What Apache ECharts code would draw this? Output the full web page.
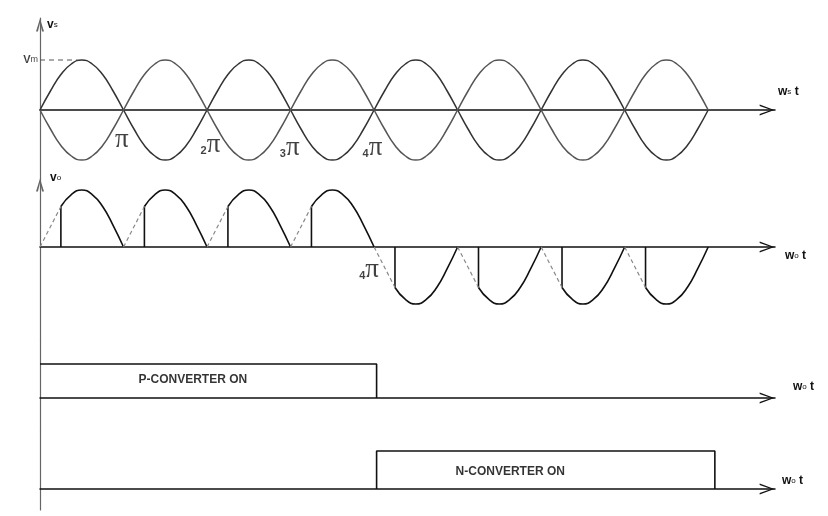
<!DOCTYPE html>
<html>
<head>
<meta charset="utf-8">
<script src="https://cdn.jsdelivr.net/npm/echarts@6/dist/echarts.min.js"></script>
<style>
  html, body { margin: 0; background: #fff; }
  #main { width: 828px; height: 516px; }
</style>
</head>
<body>
<div id="main"></div>
<script>
// all x values are in multiples of pi; one half cycle of the supply read at eighths
const halfX = [0, 0.125, 0.25, 0.375, 0.5, 0.625, 0.75, 0.875];
const halfY = [0, 0.38, 0.71, 0.92, 1, 0.92, 0.71, 0.38];
const vsHalfCycles = [0, 1, 2, 3, 4, 5, 6, 7];
const vsSign = [1, -1, 1, -1, 1, -1, 1, -1];

const piTickX = [0.98, 2.04, 2.99, 3.98];
const piTickY = [-0.6, -0.7, -0.76, -0.76];
const piTickText = ['', '2', '3', '4'];

// output voltage: one half cycle per hump, fired at voFire
const voStart = [0, 1, 2, 3, 4, 5, 6, 7];
const voFire = [0.25, 1.25, 2.25, 3.25, 4.25, 5.25, 6.25, 7.25];
const voSign = [1, 1, 1, 1, -1, -1, -1, -1];
const humpX = [0.25, 0.375, 0.5, 0.625, 0.75, 0.875, 1];
const humpY = [0.71, 0.92, 1, 0.92, 0.71, 0.38, 0];

// converter on-intervals
const pOnX = [0, 4.03, 4.03];
const pOnY = [1, 1, 0];
const nOnX = [4.03, 4.03, 8.08, 8.08];
const nOnY = [0, 1, 1, 0];

const zip = (xs, ys) => xs.map((x, i) => [x, ys[i]]);

const vsUpper = [], vsLower = [];
vsHalfCycles.forEach((k, i) => {
  halfX.forEach((hx, j) => {
    vsUpper.push([k + hx, vsSign[i] * halfY[j]]);
    vsLower.push([k + hx, -vsSign[i] * halfY[j]]);
  });
});
vsUpper.push([8, 0]);
vsLower.push([8, 0]);

const voSolid = [], voDashed = [], voVertical = [];
voStart.forEach((s, i) => {
  const sg = voSign[i];
  humpX.forEach((hx, j) => voSolid.push([s + hx, sg * humpY[j]]));
  voSolid.push([s + 1, '-']);
  voDashed.push([s, 0], [voFire[i], sg * humpY[0]], [voFire[i], '-']);
  voVertical.push([voFire[i], 0], [voFire[i], sg * humpY[0]], [voFire[i], '-']);
});

const sans = 'Liberation Sans';
const chevron = 'path://M0,16L6,0L12,16L10.4,16L6,3.6L1.6,16Z';
const chevronY = 'path://M0,16L5,0L10,16L7.6,16L5,5.5L2.4,16Z';
const richW = {
  a: { fontFamily: sans, fontWeight: 'bold', fontSize: 12, color: '#111' },
  b: { fontFamily: sans, fontSize: 8, color: '#111' }
};

function xAx(idx, gap, padding) {
  return {
    type: 'value', gridIndex: idx, min: 0, max: 8.8,
    axisLine: { show: true, symbol: ['none', chevron], symbolSize: [11, 16],
      symbolOffset: [0, -8], lineStyle: { color: '#111', width: 1.5 } },
    axisTick: { show: false }, axisLabel: { show: false }, splitLine: { show: false },
    name: idx === 0 ? '{a|w}{b|s}{a| t}' : '{a|w}{b|o}{a| t}',
    nameLocation: 'end', nameGap: gap,
    nameTextStyle: { padding: padding, rich: richW }
  };
}
function yAx(idx, min, max, arrow, name) {
  return {
    type: 'value', gridIndex: idx, min: min, max: max,
    axisLine: { show: true, onZero: false,
      symbol: arrow ? ['none', chevronY] : 'none', symbolSize: [8, 15],
      symbolOffset: [0, -7], lineStyle: { color: '#666', width: 1.2 } },
    axisTick: { show: false }, axisLabel: { show: false }, splitLine: { show: false },
    name: name, nameLocation: 'end', nameGap: idx === 0 ? -7 : 0,
    nameTextStyle: { align: 'left', verticalAlign: 'middle',
      padding: [0, 0, 0, idx === 0 ? 7 : 10],
      rich: { a: { fontFamily: sans, fontWeight: 'bold', fontSize: 12, color: '#111' },
              b: { fontFamily: sans, fontSize: 8, color: '#111' } } }
  };
}

const solidLine = { color: '#111', width: 1.6 };
const dashLine = { color: '#888', width: 1.2, type: [4, 3] };
const piRich = {
  c: { fontFamily: sans, fontWeight: 'bold', fontSize: 11, color: '#111',
       verticalAlign: 'bottom', padding: [0, 0, 2, 0], textBorderWidth: 0 },
  p: { fontFamily: 'Liberation Serif', fontSize: 27, color: '#111', textBorderWidth: 0 }
};
const boxText = { show: true, position: 'inside', fontFamily: sans, fontWeight: 'bold',
  fontSize: 12, color: '#000', textBorderWidth: 0 };

const option = {
  backgroundColor: '#fff',
  animation: false,
  grid: [
    { left: 40, right: 53, top: 18, height: 160 },
    { left: 40, right: 53, top: 178, height: 162 },
    { left: 40, right: 53, top: 340, height: 90 },
    { left: 40, right: 53, top: 430, height: 80 }
  ],
  xAxis: [
    xAx(0, 3, [0, 0, 36, 0]),
    xAx(1, 10, [18, 0, 0, 0]),
    xAx(2, 18, [0, 0, 22, 0]),
    xAx(3, 7, [0, 0, 16, 0])
  ],
  yAxis: [
    yAx(0, -1.36, 1.84, true, '{a|v}{b|s}'),
    yAx(1, -1.6316, 1.2105, true, '{a|v}{b|o}'),
    yAx(2, -0.9412, 1.7059, false, ''),
    yAx(3, -0.5526, 1.5526, false, '')
  ],
  series: [
    { type: 'line', xAxisIndex: 0, yAxisIndex: 0, data: vsUpper, smooth: 0.5,
      showSymbol: false, lineStyle: { color: '#333', width: 1.5 } },
    { type: 'line', xAxisIndex: 0, yAxisIndex: 0, data: vsLower, smooth: 0.5,
      showSymbol: false, lineStyle: { color: '#555', width: 1.5 } },
    { type: 'line', xAxisIndex: 0, yAxisIndex: 0, data: [[0, 1], [0.45, 1]],
      showSymbol: false, lineStyle: { color: '#555', width: 1, type: [5, 4] } },
    { type: 'scatter', xAxisIndex: 0, yAxisIndex: 0, data: [[0, 1]], symbolSize: 0,
      label: { show: true, position: 'left', distance: 2, formatter: '{a|V}{b|m}',
        rich: { a: { fontFamily: sans, fontWeight: 'bold', fontSize: 11, color: '#111' },
                b: { fontFamily: sans, fontSize: 9, color: '#111' } } } },
    { type: 'scatter', xAxisIndex: 0, yAxisIndex: 0, symbolSize: 0,
      data: piTickX.map((x, i) => ({ value: [x, piTickY[i]], name: piTickText[i] })),
      label: { show: true, position: 'inside', textBorderWidth: 0,
        formatter: p => (p.name ? '{c|' + p.name + '}' : '') + '{p|π}', rich: piRich } },

    { type: 'line', xAxisIndex: 1, yAxisIndex: 1, data: voSolid, smooth: 0.5,
      showSymbol: false, connectNulls: false, lineStyle: solidLine },
    { type: 'line', xAxisIndex: 1, yAxisIndex: 1, data: voVertical,
      showSymbol: false, connectNulls: false, lineStyle: solidLine },
    { type: 'line', xAxisIndex: 1, yAxisIndex: 1, data: voDashed,
      showSymbol: false, connectNulls: false, lineStyle: dashLine },
    { type: 'scatter', xAxisIndex: 1, yAxisIndex: 1, symbolSize: 0, data: [[3.94, -0.4]],
      label: { show: true, position: 'inside', textBorderWidth: 0,
        formatter: '{c|4}{p|π}', rich: piRich } },

    { type: 'line', xAxisIndex: 2, yAxisIndex: 2, data: zip(pOnX, pOnY),
      showSymbol: false, lineStyle: solidLine },
    { type: 'scatter', xAxisIndex: 2, yAxisIndex: 2, symbolSize: 0, data: [[1.83, 0.53]],
      label: Object.assign({ formatter: 'P-CONVERTER ON' }, boxText) },
    { type: 'line', xAxisIndex: 3, yAxisIndex: 3, data: zip(nOnX, nOnY),
      showSymbol: false, lineStyle: solidLine },
    { type: 'scatter', xAxisIndex: 3, yAxisIndex: 3, symbolSize: 0, data: [[5.63, 0.45]],
      label: Object.assign({ formatter: 'N-CONVERTER ON' }, boxText) }
  ]
};

const chart = echarts.init(document.getElementById('main'));
chart.setOption(option);
</script>
</body>
</html>
